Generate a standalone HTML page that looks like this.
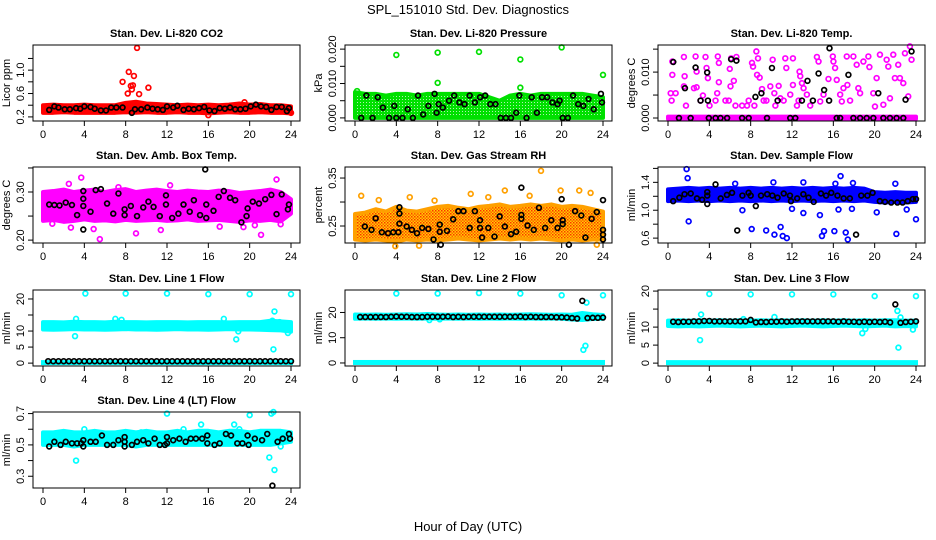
<!DOCTYPE html>
<html><head><meta charset="utf-8"><style>
body{margin:0;background:#fff;}
svg{display:block;font-family:"Liberation Sans",sans-serif;}
</style></head><body>
<svg id="chart" width="936" height="540" viewBox="0 0 936 540" xmlns="http://www.w3.org/2000/svg">
<defs>
<pattern id="rhpat" width="3" height="3" patternUnits="userSpaceOnUse"><rect width="3" height="3" fill="#ffd000"/><rect width="1.5" height="1.5" fill="#ff3000"/><rect x="1.5" y="1.5" width="1.5" height="1.5" fill="#ff6000"/></pattern>
<pattern id="prpat" width="3" height="3" patternUnits="userSpaceOnUse"><rect width="3" height="3" fill="#00e000"/><rect width="1" height="1" fill="#b0f0b0"/></pattern>
</defs>
<text x="468" y="14" text-anchor="middle" font-size="13">SPL_151010  Std. Dev. Diagnostics</text>
<text x="468" y="531" text-anchor="middle" font-size="13">Hour of Day (UTC)</text>
<g id="plots"></g>
</svg>
<script>
const bandHours=[0,1,2,3,4,5,6,7,8,9,10,11,12,13,14,15,16,17,18,19,20,21,22,23,24];
const xTicks=[0,4,8,12,16,20,24];

// CO2
const co2Lo=[0.27,0.27,0.28,0.27,0.27,0.27,0.27,0.27,0.28,0.27,0.28,0.27,0.27,0.28,0.27,0.27,0.26,0.27,0.28,0.27,0.27,0.28,0.27,0.27,0.26];
const co2Hi=[0.40,0.41,0.40,0.40,0.41,0.40,0.40,0.40,0.44,0.46,0.43,0.42,0.41,0.40,0.41,0.40,0.41,0.40,0.41,0.43,0.41,0.42,0.40,0.40,0.38];
const co2OutX=[7.7,8.2,8.3,8.5,8.6,8.7,8.8,9.1,9.3,10.2,16.0,19.5,24.0];
const co2OutY=[0.80,0.60,0.97,0.73,0.67,0.74,0.90,1.38,0.59,0.70,0.23,0.45,0.27];
const co2BlkX=[0.6,1.1,1.5,2.1,2.6,3.2,3.6,4.0,4.6,5.0,5.6,6.1,6.6,7.1,7.7,8.6,8.9,9.5,10.1,10.6,11.1,11.6,12.0,12.6,13.0,13.6,14.1,14.6,15.1,15.6,16.1,16.6,17.1,17.6,18.1,18.6,19.1,19.6,20.1,20.6,21.1,21.6,22.1,22.6,23.1,23.6,23.8];
const co2BlkY=[0.32,0.38,0.36,0.33,0.33,0.35,0.34,0.38,0.37,0.34,0.31,0.31,0.36,0.36,0.36,0.27,0.33,0.33,0.36,0.34,0.33,0.32,0.38,0.36,0.39,0.32,0.34,0.33,0.35,0.37,0.31,0.30,0.35,0.34,0.36,0.33,0.33,0.34,0.38,0.41,0.38,0.37,0.32,0.37,0.37,0.30,0.35];

// Pressure
const prLo=[0,0,0,0,0,0,0,0,0,0,0,0,0,0,0,0,0,0,0,0,0,0,0,0,0];
const prHi=[0.0075,0.007,0.007,0.0065,0.007,0.007,0.0065,0.007,0.007,0.007,0.007,0.007,0.007,0.006,0.005,0.0065,0.007,0.0065,0.007,0.007,0.007,0.007,0.007,0.0065,0.006];
const prOutX=[0.2,4,8,8,12,16,16,20,24];
const prOutY=[0.0078,0.0183,0.019,0.0102,0.0192,0.0170,0.0088,0.0205,0.0125];
const prBlkX=[0.6,1.1,1.7,2.2,2.7,3.3,3.8,4.0,4.6,5.1,5.6,6.1,6.6,7.1,7.7,7.9,8.1,8.5,9.1,9.6,10.1,10.6,11.1,11.6,12.1,12.6,13.1,13.6,14.1,14.6,15.1,15.6,15.9,16.6,17.1,17.6,18.1,18.6,19.1,19.6,19.8,20.1,20.6,21.1,21.6,22.1,22.6,23.1,23.8,23.9];
const prBlkY=[0,0.0065,0,0.006,0.003,0,0.0035,0,0,0.0025,0,0.0065,0.001,0.0035,0.007,0.0015,0.004,0.003,0.005,0.0065,0.0045,0.004,0.0065,0.0045,0.006,0.0065,0.004,0.004,0,0,0,0.0015,0.0065,0,0.006,0.0015,0.006,0.006,0.0045,0.004,0.005,0,0,0.0065,0.004,0.0035,0.0055,0.0025,0.007,0.0045];

// Li-820 Temp
const tmLo=[-0.0002,-0.0002,-0.0002,-0.0002,-0.0002,-0.0002,-0.0002,-0.0002,-0.0002,-0.0002,-0.0002,-0.0002,-0.0002,-0.0002,-0.0002,-0.0002,-0.0002,-0.0002,-0.0002,-0.0002,-0.0002,-0.0002,-0.0002,-0.0002,-0.0002];
const tmHi=[0.0003,0.0003,0.0003,0.0003,0.0003,0.0003,0.0003,0.0003,0.0003,0.0003,0.0003,0.0003,0.0003,0.0003,0.0003,0.0003,0.0003,0.0003,0.0003,0.0003,0.0003,0.0003,0.0003,0.0003,0.0003];
const tmOutX=[0.42,0.42,0.26,0.74,0.35,1.54,1.61,1.54,1.74,2.51,2.77,2.67,2.77,3.15,3.38,3.63,3.73,3.86,4.02,4.82,4.92,4.92,4.76,4.60,5.56,5.88,5.98,6.05,6.11,6.37,6.53,6.62,7.17,7.65,7.81,8.13,8.23,8.36,8.55,8.71,8.62,8.87,9.10,9.26,9.52,9.90,10.13,10.29,10.39,10.71,10.87,11.19,11.35,11.45,11.83,12.09,12.09,12.48,12.64,12.73,12.80,12.96,13.12,13.44,13.76,14.41,14.57,14.73,15.05,15.53,15.95,16.01,16.17,16.33,16.66,16.82,16.98,17.30,17.36,17.62,17.94,18.26,18.42,18.59,18.91,19.39,19.49,19.87,20.03,20.19,20.51,20.84,21.16,21.32,21.48,21.80,21.96,22.28,22.44,22.77,22.93,23.25,23.41,23.57];
const tmOutY=[0.0123,0.0094,0.0054,0.0054,0.0038,0.0133,0.0091,0.0069,0.0027,0.0065,0.0067,0.0134,0.0101,0.0038,0.0049,0.0133,0.0109,0.0087,0.0027,0.0134,0.0120,0.0078,0.0054,0.0038,0.0038,0.0038,0.0107,0.0069,0.0130,0.0081,0.0027,0.0133,0.0027,0.0027,0.0038,0.0120,0.0112,0.0027,0.0145,0.0130,0.0094,0.0088,0.0063,0.0038,0.0038,0.0069,0.0127,0.0054,0.0027,0.0070,0.0043,0.0038,0.0130,0.0109,0.0051,0.0130,0.0072,0.0027,0.0038,0.0101,0.0091,0.0076,0.0065,0.0051,0.0027,0.0133,0.0123,0.0036,0.0051,0.0085,0.0134,0.0123,0.0109,0.0083,0.0051,0.0036,0.0065,0.0134,0.0072,0.0038,0.0134,0.0116,0.0065,0.0054,0.0123,0.0134,0.0111,0.0054,0.0025,0.0087,0.0138,0.0029,0.0127,0.0112,0.0043,0.0138,0.0087,0.0116,0.0087,0.0076,0.0141,0.0047,0.0156,0.0127];
const tmBlkX=[0.51,1.64,2.67,3.15,3.79,3.86,6.11,6.62,8.46,9.04,10.06,10.61,12.96,13.50,14.02,14.57,15.11,15.59,15.63,17.46,20.35,22.99,23.57,1.06,2.19,3.95,4.60,5.08,5.72,7.17,7.81,9.58,11.83,12.32,16.33,16.66,17.94,18.59,19.23,19.87,20.84,21.48,22.12,22.77];
const tmBlkY=[0.0122,0.0065,0.0110,0.0038,0.0099,0.0038,0.0128,0.0125,0.0046,0.0054,0.0109,0.0038,0.0038,0.0081,0.0038,0.0097,0.0061,0.0038,0.0152,0.0094,0.0054,0.0040,0.0145,0,0,0,0,0,0,0,0,0,0,0,0,0,0,0,0,0,0,0,0,0];

// Amb box temp
const abLo=[0.240,0.242,0.238,0.240,0.243,0.240,0.241,0.239,0.242,0.240,0.241,0.242,0.240,0.241,0.243,0.240,0.241,0.242,0.240,0.238,0.241,0.240,0.242,0.239,0.255];
const abHi=[0.300,0.302,0.305,0.300,0.303,0.305,0.300,0.304,0.306,0.300,0.303,0.305,0.302,0.300,0.303,0.301,0.300,0.303,0.302,0.298,0.300,0.302,0.305,0.300,0.285];
const abOutX=[3.7,22.6,2.5,7.3,12.3,5.5,9.0,21.1,2.7,4.9,11.4,17.1,20.5,0.9,23.0,19.4];
const abOutY=[0.330,0.326,0.317,0.310,0.314,0.202,0.214,0.211,0.226,0.223,0.221,0.228,0.231,0.234,0.233,0.227];
const abBlkX=[0.6,1.1,1.6,2.2,2.8,3.3,3.9,3.9,3.9,3.9,4.6,5.1,5.6,6.2,6.8,7.3,7.9,7.9,8.5,9.1,9.7,10.2,10.7,11.3,11.9,11.9,12.5,13.1,13.6,14.2,14.6,15.2,15.8,15.8,15.7,16.5,17.0,17.5,18.1,18.6,19.2,19.8,19.7,20.3,20.9,21.5,22.1,22.6,23.1,23.7,23.8];
const abBlkY=[0.274,0.273,0.272,0.278,0.273,0.252,0.286,0.271,0.302,0.222,0.259,0.304,0.306,0.276,0.255,0.297,0.264,0.252,0.271,0.250,0.268,0.280,0.269,0.250,0.293,0.274,0.246,0.255,0.274,0.259,0.283,0.252,0.274,0.246,0.347,0.261,0.290,0.302,0.288,0.283,0.237,0.266,0.250,0.280,0.276,0.285,0.294,0.254,0.295,0.264,0.274];

// Gas stream RH
const rhLo=[0.222,0.220,0.222,0.220,0.218,0.222,0.220,0.222,0.220,0.222,0.224,0.222,0.220,0.222,0.224,0.222,0.224,0.222,0.224,0.222,0.220,0.222,0.220,0.222,0.222];
const rhHi=[0.275,0.278,0.285,0.280,0.290,0.282,0.280,0.285,0.290,0.292,0.288,0.285,0.290,0.292,0.295,0.290,0.292,0.295,0.292,0.295,0.290,0.292,0.290,0.285,0.280];
const rhOutX=[0.6,2.3,5.3,7.7,11.2,12.9,14.5,16.9,18.0,19.9,21.7,22.8,3.9,6.2,23.4];
const rhOutY=[0.313,0.304,0.310,0.303,0.317,0.310,0.324,0.313,0.365,0.324,0.324,0.319,0.208,0.209,0.211];
const rhBlkX=[0.95,1.6,2.0,2.6,3.2,3.7,4.2,4.3,4.3,4.3,5.0,5.5,6.0,6.5,7.1,7.6,8.2,8.2,8.3,8.9,9.5,10.0,10.5,11.1,11.6,12.1,12.1,12.3,12.9,13.5,14.0,14.5,15.1,15.6,16.1,16.1,16.1,16.7,17.3,17.8,18.4,19.0,19.6,20.0,20.1,20.1,20.7,21.3,21.9,22.3,22.9,23.4,24.0,24.0,24.0,24.0];
const rhBlkY=[0.249,0.242,0.266,0.237,0.235,0.237,0.237,0.255,0.276,0.289,0.249,0.242,0.235,0.246,0.244,0.222,0.253,0.238,0.211,0.240,0.264,0.281,0.281,0.246,0.281,0.262,0.246,0.226,0.246,0.228,0.270,0.249,0.233,0.238,0.330,0.273,0.265,0.251,0.242,0.288,0.246,0.262,0.246,0.306,0.262,0.254,0.211,0.281,0.272,0.226,0.265,0.279,0.304,0.242,0.232,0.222];

// Sample flow
const sfLo=[1.13,1.14,1.13,1.14,1.13,1.14,1.13,1.14,1.13,1.14,1.13,1.14,1.13,1.14,1.13,1.14,1.13,1.14,1.13,1.14,1.12,1.11,1.12,1.11,1.12];
const sfHi=[1.30,1.31,1.32,1.31,1.32,1.31,1.32,1.31,1.32,1.31,1.32,1.31,1.32,1.31,1.32,1.31,1.32,1.31,1.32,1.31,1.26,1.25,1.26,1.25,1.25];
const sfOutX=[1.8,1.9,2.0,6.5,7.2,8.1,9.5,10.3,10.9,11.1,11.5,10.2,13.1,13.1,14.7,14.9,15.1,16.1,16.7,16.2,16.5,17.2,17.4,17.9,17.8,20.2,22.0,22.1,23.1,24.0,12.0];
const sfOutY=[1.59,1.46,0.84,1.38,1.00,0.73,0.71,0.65,0.76,0.63,0.60,1.40,1.40,0.96,0.93,0.63,0.70,0.70,1.49,1.38,1.01,0.68,0.58,1.39,1.02,0.97,1.38,0.66,1.01,0.87,1.02];
const sfBlkX=[0.5,1.1,1.6,2.2,2.8,3.3,3.8,3.8,3.8,4.6,5.1,5.7,6.2,6.7,7.2,7.8,8.0,8.5,9.0,9.6,10.1,10.6,11.2,11.8,11.9,12.5,13.1,13.6,14.1,14.8,15.3,15.8,16.4,17.0,17.6,18.2,18.7,19.3,19.8,20.5,21.0,21.6,22.2,22.7,23.2,23.7,24.0];
const sfBlkY=[1.13,1.18,1.23,1.24,1.17,1.15,1.26,1.21,1.09,1.37,1.17,1.22,1.25,0.71,1.21,1.25,1.21,1.06,1.21,1.23,1.21,1.18,1.24,1.21,1.13,1.17,1.23,1.18,1.12,1.24,1.21,1.25,1.21,1.17,1.17,0.65,1.21,1.21,1.25,1.13,1.12,1.11,1.11,1.11,1.13,1.16,1.16];

// Line flows
const lineBlkX=[0.5,1.0,1.5,2.0,2.5,3.0,3.5,4.0,4.5,5.0,5.5,6.0,6.5,7.0,7.5,8.0,8.5,9.0,9.5,10.0,10.5,11.0,11.5,12.0,12.5,13.0,13.5,14.0,14.5,15.0,15.5,16.0,16.5,17.0,17.5,18.0,18.5,19.0,19.5,20.0,20.5,21.0,21.5,22.0,22.5,23.0,23.5,24.0];
const l1Lo=[10.5,10.4,10.5,10.6,10.5,10.5,10.4,10.5,10.6,10.5,10.5,10.4,10.5,10.6,10.5,10.5,10.4,10.5,10.6,10.5,10.5,10.4,10.3,10.2,9.8];
const l1Hi=[12.8,12.8,12.7,12.9,12.8,12.8,12.7,12.9,12.8,12.8,12.7,12.8,12.8,12.8,12.7,12.8,12.8,12.8,12.7,12.8,12.8,12.8,13.2,13.0,12.8];
const l1OutX=[4.1,8.0,12.0,16.0,20.0,24.0,3.1,3.2,7.0,7.6,17.5,18.7,18.9,22.3,22.4,22.2,22.9,23.7];
const l1OutY=[21.7,21.7,21.7,21.5,21.5,21.5,8.4,13.8,13.8,13.5,13.8,7.4,9.9,4.3,16.1,13.2,12.8,9.4];
const l1BlkY=[0.6,0.6,0.6,0.6,0.6,0.6,0.6,0.6,0.6,0.6,0.6,0.6,0.6,0.6,0.6,0.6,0.6,0.6,0.6,0.6,0.6,0.6,0.6,0.6,0.6,0.6,0.6,0.6,0.6,0.6,0.6,0.6,0.6,0.6,0.6,0.6,0.6,0.6,0.6,0.6,0.6,0.6,0.6,0.6,0.6,0.6,0.6,0.6];
const l2Lo=[17.5,17.6,17.5,17.6,17.5,17.6,17.5,17.6,17.5,17.6,17.5,17.6,17.5,17.6,17.5,17.6,17.5,17.6,17.5,17.6,17.5,17.2,17.0,17.4,17.5];
const l2Hi=[19.2,19.1,19.2,19.1,19.2,19.3,19.2,19.4,19.2,19.1,19.2,19.1,19.2,19.1,19.2,19.1,19.2,19.3,19.2,19.1,19.2,19.1,19.8,19.3,19.0];
const l2OutX=[4,8,12,16,20,24,22.4,22.1,22.3,7.2,8.2];
const l2OutY=[27.5,27.5,27.7,27.5,26.8,26.8,23.9,5.2,6.8,17.0,17.3];
const l2BlkY=[18.2,18.2,18.2,18.2,18.2,18.2,18.3,18.4,18.3,18.3,18.2,18.2,18.2,18.3,18.3,18.3,18.3,18.4,18.2,18.3,18.2,18.3,18.3,18.3,18.3,18.3,18.3,18.3,18.3,18.3,18.3,18.4,18.2,18.3,18.2,18.2,18.2,18.2,18.1,18.1,18.0,17.8,17.6,24.6,17.8,17.9,17.9,18.0];
const l3Lo=[10.3,10.2,10.3,10.2,10.3,10.4,10.3,10.2,10.3,10.4,10.3,10.2,10.3,10.4,10.3,10.2,10.3,10.4,10.3,10.2,10.3,10.4,10.2,10.3,10.2];
const l3Hi=[11.8,11.9,11.8,11.9,11.8,11.9,11.8,11.9,11.8,11.9,11.8,11.9,11.8,11.9,11.8,11.9,11.8,11.9,11.8,11.9,11.8,11.9,11.9,11.8,11.8];
const l3OutX=[4,8,12,16,20,24,3.1,3.2,10.3,18.8,19.1,22.2,22.3,22.5,23.7,7.3];
const l3OutY=[19.2,19.1,19.1,19.1,18.6,18.6,6.4,13.5,12.8,8.3,9.5,14.5,4.3,12.7,9.3,12.2];
const l3BlkY=[11.5,11.4,11.5,11.5,11.6,11.6,11.7,11.7,11.6,11.6,11.6,11.6,11.6,11.6,11.6,12.0,11.3,11.4,11.4,11.5,11.5,11.6,11.5,11.6,11.6,11.6,11.6,11.6,11.6,11.6,11.6,11.6,11.5,11.6,11.5,11.5,11.4,11.5,11.4,11.5,11.4,11.5,11.3,16.3,11.2,11.4,11.5,11.6];
const l4Lo=[0.50,0.50,0.50,0.49,0.50,0.50,0.50,0.50,0.50,0.49,0.50,0.50,0.50,0.50,0.50,0.50,0.50,0.50,0.50,0.50,0.50,0.50,0.50,0.51,0.52];
const l4Hi=[0.58,0.58,0.59,0.58,0.58,0.59,0.58,0.58,0.59,0.58,0.59,0.58,0.58,0.59,0.58,0.59,0.59,0.58,0.59,0.59,0.58,0.59,0.59,0.59,0.58];
const l4OutX=[3.2,4.0,12.0,15.3,18.5,19.0,20.0,22.1,22.3,21.9,22.4,23.0,13.6,9.5];
const l4OutY=[0.40,0.60,0.70,0.63,0.63,0.60,0.69,0.70,0.71,0.42,0.34,0.49,0.60,0.58];
const l4BlkX=[0.6,1.1,1.7,2.2,2.8,3.3,3.7,3.9,3.9,4.6,5.1,5.7,6.2,6.8,7.3,7.9,7.9,7.9,8.6,9.1,9.7,10.2,10.8,11.3,11.8,12.0,12.0,12.6,13.2,13.8,14.3,14.8,15.4,15.9,15.9,16.6,17.1,17.7,18.2,18.8,19.3,19.8,19.9,20.5,21.2,21.7,22.2,22.7,23.2,23.8,23.9];
const l4BlkY=[0.49,0.52,0.50,0.52,0.51,0.51,0.51,0.53,0.49,0.52,0.52,0.56,0.50,0.50,0.53,0.55,0.52,0.49,0.50,0.52,0.53,0.51,0.54,0.50,0.50,0.55,0.51,0.53,0.54,0.52,0.54,0.54,0.54,0.56,0.51,0.50,0.51,0.57,0.56,0.51,0.51,0.56,0.50,0.54,0.53,0.57,0.24,0.52,0.54,0.57,0.54];

const NS="http://www.w3.org/2000/svg";
const root=document.getElementById('plots');
function mk(tag,parent){const e=document.createElementNS(NS,tag);parent.appendChild(e);return e;}

const colL=[33,345,658], rowT=[45,167,290,412], PW=267, PH=76;

const panels=[
 {name:'co2',title:'Stan. Dev. Li-820 CO2',yt:'Licor ppm',c:0,r:0,ymin:0.13,ymax:1.43,ticks:[0.2,0.4,0.6,0.8,1.0,1.2],labels:['0.2','','0.6','','1.0',''],col:'#ff0000',lo:co2Lo,hi:co2Hi,ox:co2OutX,oy:co2OutY,bx:co2BlkX,by:co2BlkY},
 {name:'pressure',title:'Stan. Dev. Li-820 Pressure',yt:'kPa',c:1,r:0,ymin:-0.0009,ymax:0.0212,ticks:[0,0.005,0.01,0.015,0.02],labels:['0.000','','0.010','','0.020'],col:'url(#prpat)',oc:'#00e000',lo:prLo,hi:prHi,ox:prOutX,oy:prOutY,bx:prBlkX,by:prBlkY},
 {name:'li820-temp',title:'Stan. Dev. Li-820 Temp.',yt:'degrees C',c:2,r:0,ymin:-0.00065,ymax:0.0159,ticks:[0,0.005,0.01,0.015],labels:['0.000','','0.010',''],col:'#ff00ff',lo:tmLo,hi:tmHi,ox:tmOutX,oy:tmOutY,bx:tmBlkX,by:tmBlkY},
 {name:'amb-box-temp',title:'Stan. Dev. Amb. Box Temp.',yt:'degrees C',c:0,r:1,ymin:0.194,ymax:0.352,ticks:[0.2,0.25,0.3,0.35],labels:['0.20','','0.30',''],col:'#ff00ff',lo:abLo,hi:abHi,ox:abOutX,oy:abOutY,bx:abBlkX,by:abBlkY},
 {name:'gas-stream-rh',title:'Stan. Dev. Gas Stream RH',yt:'percent',c:1,r:1,ymin:0.2146,ymax:0.373,ticks:[0.25,0.3,0.35],labels:['0.25','','0.35'],col:'url(#rhpat)',oc:'#ffa000',lo:rhLo,hi:rhHi,ox:rhOutX,oy:rhOutY,bx:rhBlkX,by:rhBlkY},
 {name:'sample-flow',title:'Stan. Dev. Sample Flow',yt:'ml/min',c:2,r:1,ymin:0.53,ymax:1.62,ticks:[0.6,0.8,1.0,1.2,1.4,1.6],labels:['0.6','','1.0','','1.4',''],col:'#0000ff',lo:sfLo,hi:sfHi,ox:sfOutX,oy:sfOutY,bx:sfBlkX,by:sfBlkY},
 {name:'line1-flow',title:'Stan. Dev. Line 1 Flow',yt:'ml/min',c:0,r:2,ymin:-0.9,ymax:22.8,ticks:[0,5,10,15,20],labels:['0','5','10','','20'],col:'#00ffff',lo:l1Lo,hi:l1Hi,zero:true,ox:l1OutX,oy:l1OutY,bx:lineBlkX,by:l1BlkY},
 {name:'line2-flow',title:'Stan. Dev. Line 2 Flow',yt:'ml/min',c:1,r:2,ymin:-1.2,ymax:28.9,ticks:[0,10,20],labels:['0','10','20'],col:'#00ffff',lo:l2Lo,hi:l2Hi,zero:true,ox:l2OutX,oy:l2OutY,bx:lineBlkX,by:l2BlkY},
 {name:'line3-flow',title:'Stan. Dev. Line 3 Flow',yt:'ml/min',c:2,r:2,ymin:-0.8,ymax:20.3,ticks:[0,5,10,15,20],labels:['0','5','10','','20'],col:'#00ffff',lo:l3Lo,hi:l3Hi,zero:true,ox:l3OutX,oy:l3OutY,bx:lineBlkX,by:l3BlkY},
 {name:'line4-flow',title:'Stan. Dev. Line 4 (LT) Flow',yt:'ml/min',c:0,r:3,ymin:0.225,ymax:0.71,ticks:[0.3,0.4,0.5,0.6,0.7],labels:['0.3','','0.5','','0.7'],col:'#00ffff',lo:l4Lo,hi:l4Hi,ox:l4OutX,oy:l4OutY,bx:l4BlkX,by:l4BlkY}
];

panels.forEach(p=>{
 const L=colL[p.c], T=rowT[p.r];
 const xs=h=>L+10+h*248/24;
 const ys=v=>T+PH-(v-p.ymin)/(p.ymax-p.ymin)*PH;
 const g=mk('g',root);
 
 
 const t=mk('text',g);
 
 
 t.setAttribute('x',L+PW/2);t.setAttribute('y',T-8);t.setAttribute('text-anchor','middle');
 t.setAttribute('font-size','11');t.setAttribute('font-weight','bold');t.textContent=p.title;
 const xa=mk('g',g);
 
 
 const xl=mk('line',xa);
 xl.setAttribute('x1',xs(0));xl.setAttribute('x2',xs(24));xl.setAttribute('y1',T+PH);xl.setAttribute('y2',T+PH);xl.setAttribute('stroke','#000');
 xTicks.forEach(h=>{
  const tk=mk('line',xa);
  tk.setAttribute('x1',xs(h));tk.setAttribute('x2',xs(h));tk.setAttribute('y1',T+PH);tk.setAttribute('y2',T+PH+5);tk.setAttribute('stroke','#000');
  const tl=mk('text',xa);
  
  
  tl.setAttribute('x',xs(h));tl.setAttribute('y',T+PH+17);tl.setAttribute('text-anchor','middle');tl.setAttribute('font-size','11');tl.textContent=h;
 });
 const ya=mk('g',g);
 
 
 const yl=mk('line',ya);
 yl.setAttribute('x1',L);yl.setAttribute('x2',L);yl.setAttribute('y1',ys(p.ticks[0]));yl.setAttribute('y2',ys(p.ticks[p.ticks.length-1]));yl.setAttribute('stroke','#000');
 p.ticks.forEach((v,i)=>{
  const tk=mk('line',ya);
  tk.setAttribute('x1',L);tk.setAttribute('x2',L-5);tk.setAttribute('y1',ys(v));tk.setAttribute('y2',ys(v));tk.setAttribute('stroke','#000');
  if(p.labels[i]){
   const tl=mk('text',ya);
   
   
   tl.setAttribute('font-size','11');tl.setAttribute('text-anchor','middle');
   tl.setAttribute('transform','translate('+(L-9)+','+ys(v)+') rotate(-90)');tl.textContent=p.labels[i];
  }
 });
 const yt=mk('text',ya);
 
 
 yt.setAttribute('font-size','11');yt.setAttribute('text-anchor','middle');
 yt.setAttribute('transform','translate('+(L-23)+','+(T+PH/2)+') rotate(-90)');yt.textContent=p.yt;
 const d=mk('g',g);
 
 
 let pts=[];
 bandHours.forEach((h,i)=>pts.push(xs(h)+','+ys(p.hi[i])));
 for(let i=bandHours.length-1;i>=0;i--)pts.push(xs(bandHours[i])+','+ys(p.lo[i]));
 const band=mk('polygon',d);
 
 
 band.setAttribute('points',pts.join(' '));band.setAttribute('fill',p.col);
 band.setAttribute('stroke',p.oc||p.col);band.setAttribute('stroke-width','4');band.setAttribute('stroke-linejoin','round');
 if(p.zero){
  const zb=mk('rect',d);
  
  
  zb.setAttribute('x',xs(0)-2);zb.setAttribute('width',xs(24)-xs(0)+4);zb.setAttribute('y',ys(0)-3);zb.setAttribute('height',5);zb.setAttribute('fill',p.col);
 }
 p.ox.forEach((h,i)=>{
  const c=mk('circle',d);
  
  
  c.setAttribute('cx',xs(h));c.setAttribute('cy',ys(p.oy[i]));c.setAttribute('r','2.4');
  c.setAttribute('fill','none');c.setAttribute('stroke',p.oc||p.col);c.setAttribute('stroke-width','1.7');
 });
 p.bx.forEach((h,i)=>{
  const c=mk('circle',d);
  
  
  c.setAttribute('cx',xs(h));c.setAttribute('cy',ys(p.by[i]));c.setAttribute('r','2.4');
  c.setAttribute('fill','none');c.setAttribute('stroke','#000');c.setAttribute('stroke-width','1.7');
 });
 const box=mk('rect',g);
 
 
 box.setAttribute('x',L);box.setAttribute('y',T);box.setAttribute('width',PW);box.setAttribute('height',PH);
 box.setAttribute('fill','none');box.setAttribute('stroke','#000');
});
</script>
</body></html>
